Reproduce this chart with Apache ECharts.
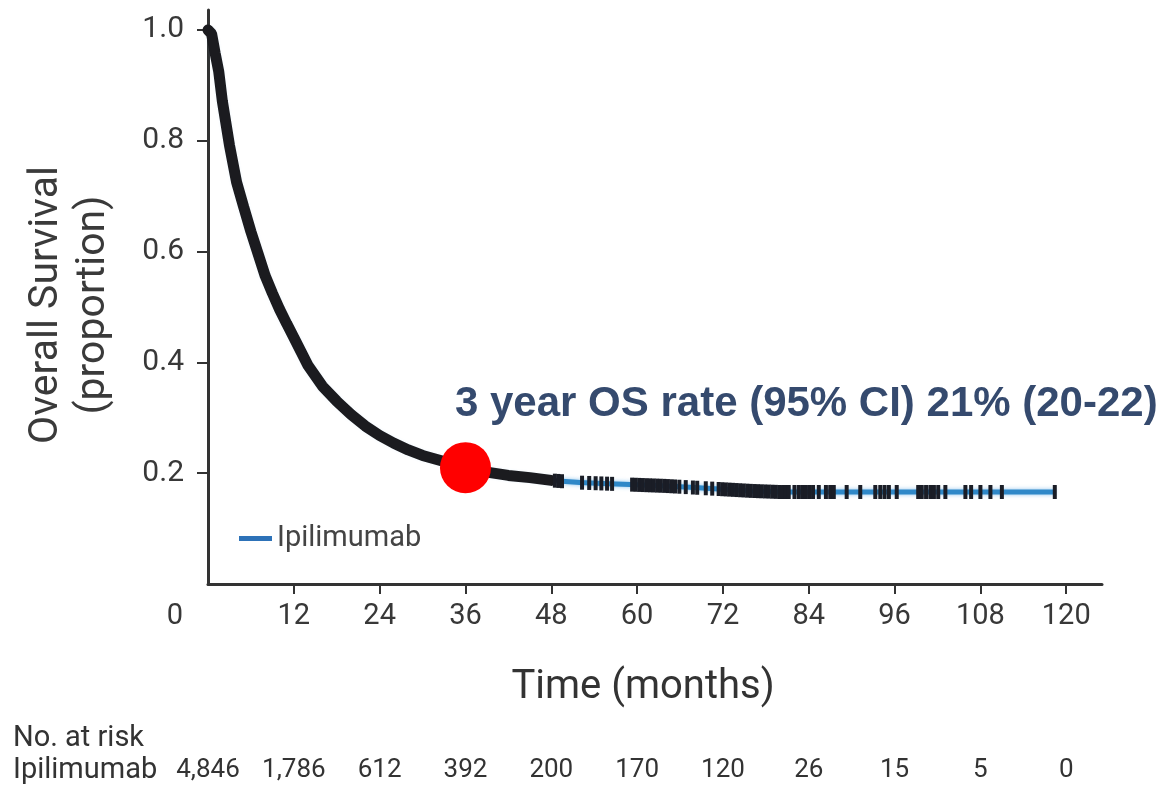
<!DOCTYPE html>
<html>
<head>
<meta charset="utf-8">
<script src="https://cdn.jsdelivr.net/npm/echarts@6/dist/echarts.min.js"></script>
<style>
  html, body { margin: 0; padding: 0; background: #ffffff; }
  #chart { width: 1172px; height: 785px; }
</style>
</head>
<body>
<div id="chart"></div>
<script>
// Kaplan-Meier overall survival, ipilimumab
const months   = [0, 0.5, 1, 1.5, 2, 3, 4, 5, 6, 7, 8, 9, 10, 11, 12, 14, 16, 18, 20, 22, 24, 26, 28, 30, 33, 36, 39, 42, 45, 48, 52, 56, 60, 64, 68, 72, 76, 80, 86, 118.4];
const survival = [1.0, 0.993, 0.958, 0.925, 0.872, 0.792, 0.725, 0.68, 0.636, 0.596, 0.556, 0.525, 0.496, 0.47, 0.445, 0.394, 0.357, 0.33, 0.306, 0.285, 0.268, 0.254, 0.242, 0.232, 0.221, 0.21, 0.202, 0.196, 0.192, 0.187, 0.183, 0.181, 0.179, 0.177, 0.174, 0.171, 0.168, 0.166, 0.166, 0.166];

// censoring times after the dense early period
const censorMonths = [48.5, 49.0, 49.5,
  52.3, 53.3, 54.2, 55.0, 55.8, 56.5,
  59.3, 59.8, 60.3, 60.8, 61.3, 61.8, 62.3, 62.8, 63.3, 63.8, 64.3, 64.8, 65.3, 65.9,
  66.8, 67.8, 68.4, 69.6, 70.5,
  71.4, 71.9, 72.4, 72.9, 73.4, 73.9, 74.4, 74.9, 75.4, 75.9, 76.4, 76.9, 77.4, 77.9, 78.4, 78.9, 79.4, 79.9, 80.4, 80.8, 81.2,
  82.0, 82.6, 83.1, 83.6, 84.1, 84.6, 85.4, 86.4,
  87.0, 87.5, 89.3, 91.2, 93.3, 94.0, 94.6, 95.2, 96.3, 99.3, 99.8, 100.4, 101.0, 101.5, 102.1, 103.1,
  105.9, 106.7, 108.0, 109.4, 111.0, 118.4];
const denseCensorEnd = 48;

const xTickValues = [12, 24, 36, 48, 60, 72, 84, 96, 108, 120];
const xLabelValues = [0, 12, 24, 36, 48, 60, 72, 84, 96, 108, 120];
const yTickValues = [0.2, 0.4, 0.6, 0.8, 1.0];

const riskMonths = [0, 12, 24, 36, 48, 60, 72, 84, 96, 108, 120];
const riskCounts = ['4,846', '1,786', '612', '392', '200', '170', '120', '26', '15', '5', '0'];

const osMonth = 36;
const osRate = 21;
const osCiLow = 20;
const osCiHigh = 22;

const seriesName = 'Ipilimumab';

const curve = months.map((m, i) => [m, survival[i]]);
const denseBand = curve.filter(p => p[0] <= denseCensorEnd);

// position of a censoring tick on the drawn curve
function curveAt(t) {
  for (let i = 1; i < months.length; i++) {
    if (t <= months[i]) {
      const f = (t - months[i - 1]) / (months[i] - months[i - 1]);
      return survival[i - 1] + f * (survival[i] - survival[i - 1]);
    }
  }
  return survival[survival.length - 1];
}
const censorPoints = censorMonths.map(t => [t, curveAt(t)]);

const axisColor = '#333333';
const labelColor = '#383838';
const FONT = 'Roboto, "Liberation Sans", sans-serif';

const chart = echarts.init(document.getElementById('chart'), null, { renderer: 'canvas' });

chart.setOption({
  backgroundColor: '#ffffff',
  animation: false,
  grid: { left: 208, top: 10, right: 70, bottom: 201, containLabel: false },
  legend: {
    data: [{ name: seriesName, icon: 'rect', itemStyle: { color: '#2d72b8' } }],
    left: 234, top: 519,
    itemWidth: 33, itemHeight: 5, itemGap: 8,
    textStyle: { fontFamily: FONT, fontSize: 29, color: '#444444' },
    selectedMode: false
  },
  xAxis: [{
    type: 'value', min: 0, max: 125, interval: 12,
    axisLine: { show: true, lineStyle: { color: axisColor, width: 3 } },
    axisTick: { show: true, customValues: xTickValues, length: 10, lineStyle: { color: axisColor, width: 2 } },
    axisLabel: {
      customValues: xLabelValues, margin: 18,
      fontFamily: FONT, fontSize: 29, color: labelColor,
      formatter: v => v === 0 ? '{origin|0}' : String(v),
      rich: { origin: { fontFamily: FONT, fontSize: 29, color: labelColor, padding: [0, 66, 0, 0] } }
    },
    splitLine: { show: false },
    name: 'Time (months)', nameLocation: 'middle', nameGap: 84,
    nameTextStyle: { fontFamily: FONT, fontSize: 40, color: '#333333', padding: [0, 24, 0, 0] }
  }, {
    type: 'value', min: 0, max: 125, interval: 12, position: 'bottom', offset: 168,
    axisLine: { show: false }, axisTick: { show: false }, splitLine: { show: false },
    axisLabel: {
      customValues: riskMonths, margin: 5,
      fontFamily: FONT, fontSize: 26, color: '#333333',
      formatter: v => riskCounts[riskMonths.indexOf(v)]
    }
  }],
  yAxis: {
    type: 'value', min: 0, max: 1.036, interval: 0.2,
    axisLine: { show: true, lineStyle: { color: axisColor, width: 3 } },
    axisTick: { show: true, customValues: yTickValues, length: 11, lineStyle: { color: axisColor, width: 2 } },
    axisLabel: {
      customValues: yTickValues, margin: 24,
      fontFamily: FONT, fontSize: 30, color: labelColor,
      formatter: v => v.toFixed(1)
    },
    splitLine: { show: false },
    name: 'Overall Survival\n(proportion)', nameLocation: 'middle', nameGap: 91, nameRotate: 90,
    nameTextStyle: { fontFamily: FONT, fontSize: 41, lineHeight: 47, color: '#3a3a3a', padding: [0, 16, 0, 0] }
  },
  graphic: [
    { type: 'text', left: 13, top: 724, style: { text: 'No. at risk', fontFamily: FONT, fontSize: 29, fill: '#333333' } },
    { type: 'text', left: 13, top: 756, style: { text: seriesName, fontFamily: FONT, fontSize: 29, fill: '#333333' } }
  ],
  series: [
    {
      name: seriesName, type: 'line', data: curve, showSymbol: false, smooth: false,
      lineStyle: { color: '#2f88c8', width: 5, shadowColor: 'rgba(90,170,230,0.7)', shadowBlur: 4 },
      itemStyle: { color: '#2d72b8' }, z: 2, silent: true
    },
    {
      name: 'dense censoring', type: 'line', data: denseBand, showSymbol: false,
      lineStyle: { color: '#1b1b1f', width: 11, cap: 'round' }, z: 3, silent: true
    },
    {
      name: 'censored', type: 'scatter', data: censorPoints,
      symbol: 'rect', symbolSize: [4, 14],
      itemStyle: { color: '#1a1d26', opacity: 1 }, z: 4, silent: true
    },
    {
      name: '3 year OS', type: 'scatter', data: [[osMonth, osRate / 100]],
      symbol: 'circle', symbolSize: 51,
      itemStyle: { color: '#ff0000', opacity: 1 }, z: 5, silent: true,
      label: {
        show: true, position: [15, -38], align: 'left', verticalAlign: 'middle',
        formatter: () => `${osMonth / 12} year OS rate (95% CI) ${osRate}% (${osCiLow}-${osCiHigh})`,
        fontFamily: '"Liberation Sans", Arial, sans-serif', fontWeight: 'bold', fontSize: 42, color: '#354a6e'
      }
    }
  ]
});
</script>
</body>
</html>
